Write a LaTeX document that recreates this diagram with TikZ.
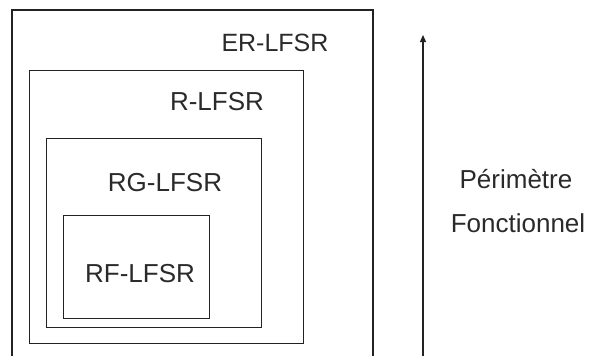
\documentclass[tikz,border=0pt]{standalone}
\usepackage{fontspec}
\setmainfont{Liberation Sans}
\usetikzlibrary{arrows.meta}
\definecolor{framegray}{HTML}{222222}
\definecolor{labelgray}{HTML}{2a2a2a}

\begin{document}
\begin{tikzpicture}[x=1pt, y=-1pt, line width=1.2pt,
  frame/.style={draw=framegray},
  boxlabel/.style={text=labelgray, font=\fontsize{26}{30}\selectfont, inner sep=0pt, anchor=base},
  sidelabel/.style={text=labelgray, font=\fontsize{26}{30}\selectfont, inner sep=0pt, anchor=base}]
  \useasboundingbox (0,0) rectangle (590,356);
  % nested boxes
  \draw[frame] (12,360) -- (12,10) -- (373,10) -- (373,360);
  \node[frame, inner sep=0pt, minimum width=274pt, minimum height=273pt, anchor=north west] (rbox) at (29,70) {};
  \node[frame, inner sep=0pt, minimum width=215pt, minimum height=189pt, anchor=north west] (rgbox) at (46,138) {};
  \node[frame, inner sep=0pt, minimum width=146pt, minimum height=103pt, anchor=north west] (rfbox) at (63,215) {};
  % labels
  \node[boxlabel, font=\fontsize{25}{30}\selectfont] (er) at (275,52) {ER-LFSR};
  \node[boxlabel] (r) at (217,110) {R-LFSR};
  \node[boxlabel] (rg) at (165,191) {RG-LFSR};
  \node[boxlabel] (rf) at (140,282) {RF-LFSR};
  % perimetre
  \coordinate (arrowbot) at (423,360);
  \coordinate (arrowtop) at (423,35);
  \draw[-{Triangle[length=7pt, width=6pt]}, framegray] (arrowbot) -- (arrowtop);
  \node[sidelabel] (perim) at (516,188) {Périmètre};
  \node[sidelabel] (fonct) at (518,232) {Fonctionnel};
\end{tikzpicture}
\end{document}
